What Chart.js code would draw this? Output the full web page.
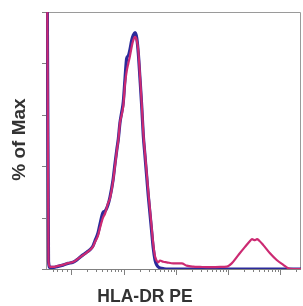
<!DOCTYPE html>
<html>
<head>
<meta charset="utf-8">
<style>
  html, body { margin: 0; padding: 0; background: #fff; }
</style>
</head>
<body>
<canvas id="histChart" width="303" height="306"></canvas>
<script src="https://cdn.jsdelivr.net/npm/chart.js@4"></script>
<script>
// ================= DATA =================
// channel position (0-255) and % of max
const magentaX = [1, 2.5, 4, 7, 12, 17, 22, 27, 32, 37, 41, 44, 47, 49, 52, 54, 57, 59, 62, 64, 67, 69, 71, 72.3, 74, 75.7, 77.3, 79, 80.7, 82.3, 84, 85.7, 87.3, 89, 90.7, 92.3, 94, 95.7, 97.3, 99, 100.7, 102.3, 104, 105.7, 107.3, 109, 110.7, 112.3, 114, 117.3, 120.7, 127.3, 135.7, 140.7, 147.3, 154, 164, 174, 180.7, 185.7, 192.3, 199, 204, 206, 209, 211, 213.3, 217.3, 224, 230.7, 237.3, 242.3, 247.3, 255];
const magentaY = [140, 3, 0.8, 0.8, 1.2, 1.6, 2.3, 2.7, 4.0, 5.4, 6.5, 7.4, 8.7, 10.5, 13.0, 16, 20, 21.5, 25.5, 27.5, 34, 40, 46.5, 50, 57, 60, 63.5, 72, 77, 80, 83, 86.5, 89, 90.3, 89, 85, 75, 64.5, 53, 45, 37.4, 30, 23, 16, 9.5, 5, 3.2, 2.6, 3.3, 2.8, 2.6, 2.2, 2.2, 1.3, 0.9, 0.8, 0.7, 0.8, 0.9, 2.2, 5.4, 8.6, 10.9, 11.6, 11.2, 11.6, 11.0, 9.3, 6.1, 3.5, 1.6, 0.3, 0, 0];

const blueX = [1, 2.5, 4, 7, 12, 17, 22, 27, 32, 37, 41, 44, 47, 49, 52, 54, 57, 59, 62, 64, 67, 69, 71, 72.3, 74, 75.7, 77.3, 79, 80.7, 82.3, 84, 85.7, 87.3, 89, 90.7, 92.3, 94, 95.7, 97.3, 99, 100.7, 102.3, 104, 105.7, 107.3, 109, 110.7, 112.3, 114, 118, 122, 255];
const blueY = [140, 3, 0.6, 0.6, 1.0, 1.5, 2.2, 2.6, 3.9, 5.5, 6.6, 7.5, 9, 11, 14, 17.5, 22, 22.5, 25, 28, 34.5, 41, 47, 50.5, 57, 61, 65, 74, 82, 83, 85.5, 89, 91, 92, 90, 84, 74, 63.5, 52, 44, 36, 28.5, 21.5, 14.5, 8, 3.5, 1.6, 0.8, 0.4, 0.1, 0, 0];

const yTicks = [0, 20, 40, 60, 80, 100];
const xMajorTicks = [25, 78, 130, 182, 234];
const xLeftMinorTicks = [7, 11, 16, 21];
const xDecadeWidth = 52;

const xTitle = 'HLA-DR PE';
const yTitle = '% of Max';

const colors = {
  blue: '#2b2a9a',
  magenta: '#cc2a72',
  frame: '#9a9a9a',
  axis: '#808080',
  text: '#333333'
};

const toPoints = (xs, ys) => xs.map((x, i) => ({ x: x, y: ys[i] }));

// log-style minor ticks inside each decade
const xMinorTicks = xLeftMinorTicks.slice();
xMajorTicks.forEach(m => {
  for (let k = 2; k <= 9; k++) {
    const v = m + xDecadeWidth * Math.log10(k);
    if (v < 255) xMinorTicks.push(v);
  }
});

// ================= FRAME / AXES PLUGIN =================
const framePlugin = {
  id: 'frame',
  beforeDatasetsDraw(chart) {
    const { ctx, chartArea: a, scales } = chart;
    ctx.save();
    ctx.lineWidth = 1;
    ctx.strokeStyle = colors.frame;
    ctx.beginPath();
    ctx.moveTo(a.left + 0.5, a.bottom);
    ctx.lineTo(a.left + 0.5, a.top + 0.5);
    ctx.lineTo(a.right - 0.5, a.top + 0.5);
    ctx.lineTo(a.right - 0.5, a.bottom);
    ctx.stroke();

    ctx.strokeStyle = colors.axis;
    ctx.beginPath();
    ctx.moveTo(a.left, a.bottom + 0.5);
    ctx.lineTo(a.right, a.bottom + 0.5);
    yTicks.forEach(v => {
      const y = Math.round(scales.y.getPixelForValue(v)) + 0.5;
      ctx.moveTo(a.left - 4, y);
      ctx.lineTo(a.left, y);
    });
    xMajorTicks.forEach(v => {
      const x = Math.round(scales.x.getPixelForValue(v)) + 0.5;
      ctx.moveTo(x, a.bottom);
      ctx.lineTo(x, a.bottom + 6);
    });
    xMinorTicks.forEach(v => {
      const x = Math.round(scales.x.getPixelForValue(v)) + 0.5;
      ctx.moveTo(x, a.bottom);
      ctx.lineTo(x, a.bottom + 3);
    });
    ctx.stroke();
    ctx.restore();
  },
  afterDraw(chart) {
    const { ctx, chartArea: a } = chart;
    ctx.save();
    ctx.fillStyle = colors.text;
    ctx.textAlign = 'center';
    ctx.textBaseline = 'alphabetic';
    ctx.font = 'bold 17.5px "Liberation Sans", Arial, sans-serif';
    ctx.fillText(xTitle, 145, 302);
    ctx.translate(25, (a.top + a.bottom) / 2 - 1);
    ctx.rotate(-Math.PI / 2);
    ctx.font = 'bold 19px "Liberation Sans", Arial, sans-serif';
    ctx.fillText(yTitle, 0, 0);
    ctx.restore();
  }
};

// ================= CHART =================
const histCtx = document.getElementById('histChart').getContext('2d');
new Chart(histCtx, {
  type: 'line',
  data: {
    datasets: [{
      label: 'Isotype',
      data: toPoints(blueX, blueY),
      borderColor: colors.blue,
      borderWidth: 3.2,
      pointRadius: 0,
      fill: false,
      order: 2,
      cubicInterpolationMode: 'monotone'
    }, {
      label: 'HLA-DR PE',
      data: toPoints(magentaX, magentaY),
      borderColor: colors.magenta,
      borderWidth: 2.2,
      pointRadius: 0,
      fill: false,
      order: 1,
      cubicInterpolationMode: 'monotone'
    }]
  },
  options: {
    responsive: false,
    animation: false,
    layout: { padding: { left: 46, right: 2, top: 12, bottom: 37 } },
    plugins: {
      legend: { display: false },
      tooltip: { enabled: false }
    },
    scales: {
      x: { type: 'linear', min: 0, max: 255, display: false },
      y: { min: 0, max: 100, display: false }
    }
  },
  plugins: [framePlugin]
});
</script>
</body>
</html>
